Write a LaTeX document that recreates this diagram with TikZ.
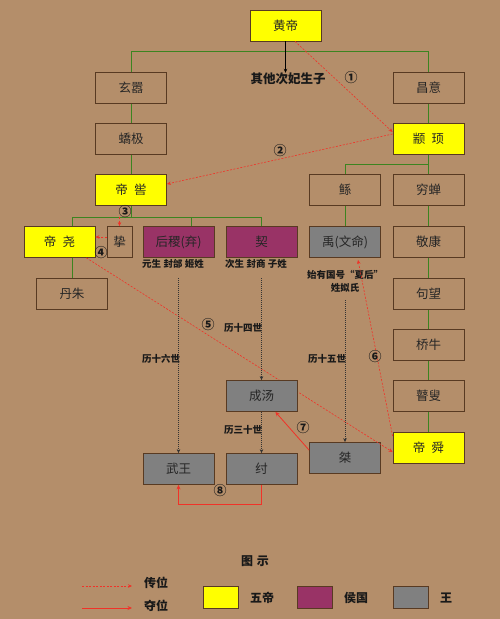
\documentclass[tikz,border=0pt]{standalone}
\usepackage{fontspec}
\setmainfont{Noto Sans CJK SC}
\usetikzlibrary{arrows.meta}
\definecolor{bg}{RGB}{180,142,106}
\definecolor{boxline}{RGB}{88,58,34}
\definecolor{wd}{RGB}{255,255,0}
\definecolor{hg}{RGB}{153,51,102}
\definecolor{wg}{RGB}{128,128,128}
\definecolor{gl}{RGB}{60,132,32}
\definecolor{rl}{RGB}{240,50,40}
\begin{document}
\begin{tikzpicture}[x=1pt,y=-1pt,
  box/.style={draw=boxline, line width=0.8pt, minimum width=71pt, minimum height=31pt, inner sep=0pt, text=black!85, font=\fontsize{12.5}{13}\selectfont},
  lbox/.style={draw=boxline, line width=0.8pt, minimum width=35pt, minimum height=22pt, inner sep=0pt},
  gline/.style={draw=gl, line width=0.8pt},
  rdash/.style={draw=rl, line width=0.6pt, dash pattern=on 2pt off 1.5pt, -{Stealth[length=4pt,width=3.5pt]}},
  rsolid/.style={draw=rl, line width=0.8pt, -{Stealth[length=4.5pt,width=4pt]}},
  dotarr/.style={draw=black!80, line width=0.6pt, dash pattern=on 1pt off 1pt, -{Stealth[length=4pt,width=3.5pt]}},
  lab/.style={inner sep=0pt, text=black!90, font=\bfseries\fontsize{9.5}{10}\selectfont},
  num/.style={inner sep=0pt, text=black!90, font=\bfseries\fontsize{13}{13}\selectfont},
  leg/.style={inner sep=0pt, text=black!90, font=\bfseries\fontsize{12}{12}\selectfont}]
\fill[bg] (0,0) rectangle (500,619);
\useasboundingbox (0,0) rectangle (500,619);
% row coordinates
\coordinate (r1) at (0,51);
\coordinate (r2) at (0,164);
\coordinate (r3) at (0,217);
\coordinate (r8) at (0,504);
\coordinate (s1) at (178.5,278);
\coordinate (s2) at (261.5,278);
\coordinate (s3) at (345,300);
% boxes
\node[box,fill=wd] (hd) at (285.5,25.5) {黄帝};
\node[box] (xx) at (131,88) {玄嚣};
\node[box] (cy) at (428.5,88) {昌意};
\node[box] (jj) at (131,139) {蟜极};
\node[box,fill=wd] (zx) at (428.5,139) {颛\hspace{0.5em}顼};
\node[box,fill=wd] (dk) at (131,190) {帝\hspace{0.5em}喾};
\node[box] (gun) at (345,190) {鲧};
\node[box] (qc) at (428.5,190) {穷蝉};
\node[box,fill=wd] (dy) at (59.5,242) {帝\hspace{0.5em}尧};
\node[box,minimum width=25pt] (zhi) at (119.5,242) {挚};
\node[box,fill=hg] (hj) at (178.5,242) {后稷(弃)};
\node[box,fill=hg] (xie) at (261.5,242) {契};
\node[box,fill=wg] (yu) at (345,242) {禹(文命)};
\node[box] (jk) at (428.5,242) {敬康};
\node[box] (dz) at (72,294) {丹朱};
\node[box] (gw) at (428.5,294) {句望};
\node[box] (qn) at (428.5,345) {桥牛};
\node[box] (gs) at (428.5,396) {瞽叟};
\node[box,fill=wd] (ds) at (428.5,448) {帝\hspace{0.5em}舜};
\node[box,fill=wg] (jie) at (345,458) {桀};
\node[box,fill=wg] (ww) at (178.5,469) {武王};
\node[box,fill=wg] (zhou) at (261.5,469) {纣};
% red dashed line 5 runs behind the 成汤 box
\draw[rdash] ([xshift=-9pt]dy.south east) -- ([yshift=-4pt]ds.west);
\node[box,fill=wg] (ct) at (261.5,396) {成汤};
% green family lines
\draw[gline] (xx.north) -- (xx.north |- r1) -| (cy.north);
\draw[gline] (xx.south) -- (jj.north);
\draw[gline] (jj.south) -- (dk.north);
\draw[gline] (cy.south) -- (zx.north);
\draw[gline] (zx.south) -- (qc.north);
\draw[gline] (gun.north) |- (qc.north |- r2);
\draw[gline] (gun.south) -- (yu.north);
\draw[gline] (qc.south) -- (jk.north);
\draw[gline] (jk.south) -- (gw.north);
\draw[gline] (gw.south) -- (qn.north);
\draw[gline] (qn.south) -- (gs.north);
\draw[gline] (gs.south) -- (ds.north);
\draw[gline] (dk.south) -- (dk.south |- r3);
\draw[gline] ([xshift=12.5pt]dy.north) |- (xie.north |- r3) -- (xie.north);
\draw[gline] ([xshift=12.5pt]hj.north) -- ([xshift=12.5pt]hj.north |- r3);
\draw[gline] ([xshift=12.5pt]dy.south) -- (dz.north);
% other sons
\node[inner sep=0pt, text=black!90, font=\bfseries\fontsize{12.5}{13}\selectfont] (qt) at (288,79) {其他次妃生子};
\draw[draw=black, line width=0.6pt, -{Stealth[length=4pt,width=3.5pt]}] (hd.south) -- (hd.south |- qt.north);
% labels under boxes
\node[lab] (l1) at (173,264) {元生\hspace{0.25em}封邰\hspace{0.25em}姬姓};
\node[lab] (l2) at (256,264) {次生\hspace{0.25em}封商\hspace{0.25em}子姓};
\node[lab] (l3) at (345,275) {始有国号“夏后”};
\node[lab] (l4) at (345,288) {姓姒氏};
\node[lab] (g16) at (161,359) {历十六世};
\node[lab] (g14) at (243,328) {历十四世};
\node[lab] (g15) at (327,359) {历十五世};
\node[lab] (g30) at (243,430) {历三十世};
% dotted descent arrows
\draw[dotarr] (s1) -- (ww.north);
\draw[dotarr] (s2) -- (ct.north);
\draw[dotarr] (s3) -- (jie.north);
\draw[dotarr] (ct.south) -- (zhou.north);
% succession arrows
\draw[rdash] ([xshift=9.5pt]hd.south) -- ([yshift=7pt]zx.west);
\draw[rdash] ([yshift=5pt]zx.west) -- ([yshift=6pt]dk.east);
\draw[rdash] (zhi.north |- r3) -- (zhi.north);
\draw[rdash] ([yshift=5pt]zhi.west) -- ([yshift=5pt]dy.east);
\draw[rdash] ([yshift=-4pt]ds.north west) -- ([xshift=13pt,yshift=-2pt]yu.south);
\draw[rsolid] ([yshift=-8pt]jie.north west) -- ([xshift=-22pt]ct.south east);
\draw[rsolid] (zhou.south) -- (zhou.south |- r8) -| (ww.south);
% circled numbers
\node[num] (n1) at (351,78) {①};
\node[num] (n2) at (280,151) {②};
\node[num] (n3) at (125,212) {③};
\node[num] (n4) at (101,253) {④};
\node[num] (n5) at (208,325) {⑤};
\node[num] (n6) at (375,357) {⑥};
\node[num] (n7) at (303,428) {⑦};
\node[num] (n8) at (220,491) {⑧};
% legend
\node[leg] (lg) at (255,561) {图\hspace{0.3em}示};
\coordinate (la1) at (82,586);
\coordinate (la2) at (132,586);
\coordinate (lb1) at (82,608);
\coordinate (lb2) at (132,608);
\draw[rdash] (la1) -- (la2);
\draw[rsolid] (lb1) -- (lb2);
\node[leg] (t1) at (156,583) {传位};
\node[leg] (t2) at (156,606) {夺位};
\node[lbox,fill=wd] (k1) at (220.5,597) {};
\node[leg] (k1t) at (262,598) {五帝};
\node[lbox,fill=hg] (k2) at (315,597) {};
\node[leg] (k2t) at (356,598) {侯国};
\node[lbox,fill=wg] (k3) at (410.5,597) {};
\node[leg] (k3t) at (446,598) {王};
\end{tikzpicture}
\end{document}
